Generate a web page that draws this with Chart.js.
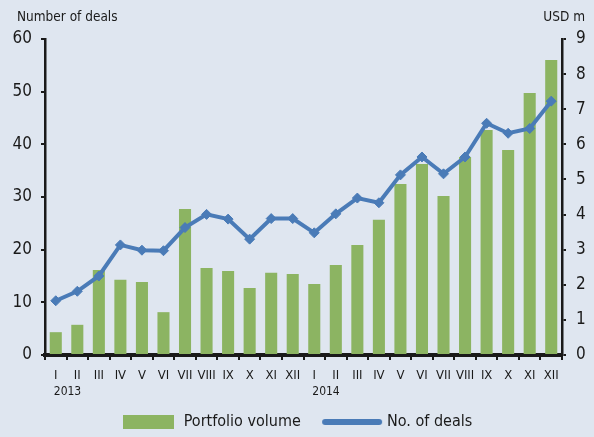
<!DOCTYPE html>
<html>
<head>
<meta charset="utf-8">
<script src="https://cdn.jsdelivr.net/npm/chart.js@4/dist/chart.umd.min.js"></script>
<style>
  html, body { margin: 0; padding: 0; background: #dfe6f0; }
  #wrap { width: 594px; height: 437px; }
</style>
</head>
<body>
<div id="wrap"><canvas id="chart" width="594" height="437"></canvas></div>
<script>
// months, two years
const months = ['I','II','III','IV','V','VI','VII','VIII','IX','X','XI','XII',
                'I','II','III','IV','V','VI','VII','VIII','IX','X','XI','XII'];
const yearLabels = ['2013', '2014'];
const yearStart = [0, 12];

// portfolio volume, USD m (right axis)
const portfolioVolume = [0.65, 0.86, 2.42, 2.14, 2.08, 1.22, 4.16, 2.48, 2.39, 1.91, 2.34, 2.31,
                         2.02, 2.56, 3.13, 3.85, 4.87, 5.44, 4.53, 5.64, 6.41, 5.84, 7.46, 8.40];
// number of deals (left axis)
const numberOfDeals = [10.3, 12.1, 15.0, 20.9, 19.9, 19.8, 24.2, 26.7, 25.8, 22.0, 25.9, 25.9,
                       23.2, 26.8, 29.8, 28.9, 34.2, 37.6, 34.4, 37.6, 44.0, 42.1, 43.0, 48.2];

const FONT = "'Liberation Sans Narrow', 'Arial Narrow', 'DejaVu Sans Condensed', sans-serif";
const INK = '#1a1a1a';
const GREEN = '#8cb462';
const BLUE = '#4a7bb7';

// legend swatches
function swatch(w, h, draw) {
  const c = document.createElement('canvas');
  c.width = w; c.height = h;
  draw(c.getContext('2d'));
  return c;
}
const barSwatch = swatch(51, 14, g => { g.fillStyle = GREEN; g.fillRect(0, 0, 51, 14); });
const lineSwatch = swatch(62, 8, g => {
  g.strokeStyle = BLUE; g.lineWidth = 6; g.lineCap = 'round';
  g.beginPath(); g.moveTo(4, 4); g.lineTo(58, 4); g.stroke();
});

const axisTitles = {
  id: 'axisTitles',
  afterDraw(chart) {
    const ctx = chart.ctx;
    ctx.save();
    ctx.fillStyle = INK;
    ctx.textBaseline = 'middle';
    ctx.font = '13.5px ' + FONT;
    ctx.textAlign = 'left';
    ctx.fillText('Number of deals', 17, 17);
    ctx.textAlign = 'right';
    ctx.fillText('USD m', 585, 17);
    // year under first month
    const x = chart.scales.x;
    ctx.font = '12px ' + FONT;
    ctx.textAlign = 'left';
    yearLabels.forEach((y, i) => {
      ctx.fillText(y, x.getPixelForValue(yearStart[i]) - 2, 392);
    });
    ctx.restore();
  }
};

new Chart(document.getElementById('chart'), {
  type: 'bar',
  data: {
    labels: months,
    datasets: [
      {
        type: 'bar',
        label: 'Portfolio volume',
        data: portfolioVolume,
        yAxisID: 'y1',
        backgroundColor: GREEN,
        barPercentage: 0.56,
        categoryPercentage: 1,
        order: 2
      },
      {
        type: 'line',
        label: 'No. of deals',
        data: numberOfDeals,
        yAxisID: 'y',
        borderColor: BLUE,
        borderWidth: 4,
        pointStyle: 'rectRot',
        pointRadius: 5,
        pointBackgroundColor: BLUE,
        pointBorderColor: BLUE,
        pointBorderWidth: 1,
        tension: 0,
        order: 1
      }
    ]
  },
  options: {
    responsive: false,
    animation: false,
    devicePixelRatio: 1,
    layout: { padding: { top: 39, left: 0, right: 0, bottom: -3 } },
    plugins: {
      tooltip: { enabled: false },
      legend: {
        position: 'bottom',
        labels: {
          usePointStyle: true,
          pointStyleWidth: 54,
          padding: 6,
          color: INK,
          font: { family: FONT, size: 16 },
          generateLabels: () => [
            { text: 'Portfolio volume    ', pointStyle: barSwatch, fillStyle: GREEN, strokeStyle: GREEN, lineWidth: 0, hidden: false, datasetIndex: 0, fontColor: INK },
            { text: 'No. of deals', pointStyle: lineSwatch, fillStyle: BLUE, strokeStyle: BLUE, lineWidth: 0, hidden: false, datasetIndex: 1, fontColor: INK }
          ]
        }
      }
    },
    scales: {
      x: {
        offset: true,
        grid: { drawOnChartArea: false, drawTicks: true, tickLength: 5, offset: true, color: INK, lineWidth: 2 },
        border: { display: true, color: INK, width: 4 },
        ticks: { color: INK, font: { family: FONT, size: 13 }, padding: 8, maxRotation: 0, autoSkip: false },
        afterFit: s => { s.height = 53; }
      },
      y: {
        position: 'left',
        min: 0, max: 60,
        grid: { drawOnChartArea: false, drawTicks: true, tickLength: 4, color: INK, lineWidth: 2 },
        border: { display: true, color: INK, width: 2.5 },
        ticks: { stepSize: 10, color: INK, font: { family: FONT, size: 17 }, padding: 9 },
        afterFit: s => { s.width = 45; }
      },
      y1: {
        position: 'right',
        min: 0, max: 9,
        grid: { drawOnChartArea: false, drawTicks: true, tickLength: 4, color: INK, lineWidth: 2 },
        border: { display: true, color: INK, width: 2.5 },
        ticks: { stepSize: 1, color: INK, font: { family: FONT, size: 17 }, padding: 10 },
        afterFit: s => { s.width = 32; }
      }
    }
  },
  plugins: [axisTitles]
});
</script>
</body>
</html>
